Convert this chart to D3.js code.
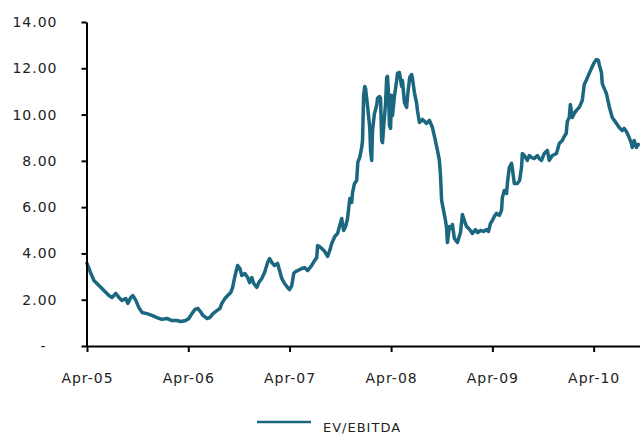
<!DOCTYPE html>
<html>
<head>
<meta charset="utf-8">
<script src="https://cdn.jsdelivr.net/npm/d3@7/dist/d3.min.js"></script>
<style>
  html, body { margin: 0; padding: 0; background: #fff; }
  svg { display: block; }
  .axis text { font-family: "DejaVu Sans", Verdana, sans-serif; font-size: 14px; letter-spacing: 1px; fill: #222; }
  .legend text { font-family: "DejaVu Sans", Verdana, sans-serif; font-size: 13px; letter-spacing: 1px; fill: #222; }
</style>
</head>
<body>
<svg id="chart" width="640" height="434"></svg>
<script>
// EV/EBITDA multiple, observation dates and values
const dates = [
  "2005-04-01","2005-04-08","2005-04-15","2005-04-26","2005-05-14","2005-06-01","2005-06-19","2005-06-30","2005-07-14","2005-07-25",
  "2005-08-05","2005-08-19","2005-08-26","2005-09-06","2005-09-13","2005-09-24","2005-10-05","2005-10-16","2005-11-03","2005-11-21",
  "2005-12-09","2005-12-27","2006-01-14","2006-02-01","2006-02-19","2006-03-05","2006-03-23","2006-04-03","2006-04-14","2006-04-25",
  "2006-05-06","2006-05-17","2006-05-24","2006-06-07","2006-06-18","2006-06-29","2006-07-13","2006-07-24","2006-07-31","2006-08-11",
  "2006-08-21","2006-09-01","2006-09-08","2006-09-15","2006-09-23","2006-09-26","2006-10-04","2006-10-11","2006-10-22","2006-11-01",
  "2006-11-08","2006-11-16","2006-11-23","2006-12-04","2006-12-11","2006-12-22","2007-01-01","2007-01-12","2007-01-19","2007-01-27",
  "2007-02-06","2007-02-17","2007-02-24","2007-03-04","2007-03-14","2007-03-25","2007-04-01","2007-04-09","2007-04-16","2007-04-23",
  "2007-04-30","2007-05-15","2007-05-25","2007-06-05","2007-06-20","2007-06-30","2007-07-08","2007-07-11","2007-07-18","2007-07-26",
  "2007-08-06","2007-08-16","2007-08-24","2007-08-31","2007-09-11","2007-09-21","2007-09-28","2007-10-06","2007-10-13","2007-10-20",
  "2007-10-27","2007-11-04","2007-11-11","2007-11-14","2007-11-21","2007-11-29","2007-12-03","2007-12-10","2007-12-17","2007-12-20",
  "2007-12-24","2007-12-28","2007-12-31","2008-01-08","2008-01-15","2008-01-18","2008-01-22","2008-01-25","2008-02-01","2008-02-09",
  "2008-02-12","2008-02-19","2008-02-23","2008-02-27","2008-03-01","2008-03-05","2008-03-12","2008-03-16","2008-03-19","2008-03-23",
  "2008-03-26","2008-03-30","2008-04-03","2008-04-06","2008-04-13","2008-04-21","2008-04-24","2008-05-01","2008-05-09","2008-05-12",
  "2008-05-19","2008-05-27","2008-05-30","2008-06-07","2008-06-14","2008-06-17","2008-06-24","2008-07-02","2008-07-05","2008-07-12",
  "2008-07-23","2008-08-07","2008-08-17","2008-08-28","2008-09-05","2008-09-15","2008-09-22","2008-09-26","2008-09-30","2008-10-07",
  "2008-10-14","2008-10-18","2008-10-21","2008-10-28","2008-11-05","2008-11-08","2008-11-15","2008-11-26","2008-12-07","2008-12-14",
  "2008-12-21","2008-12-29","2009-01-09","2009-01-19","2009-01-30","2009-02-07","2009-02-17","2009-02-28","2009-03-11","2009-03-18",
  "2009-03-25","2009-04-01","2009-04-08","2009-04-16","2009-04-26","2009-05-04","2009-05-07","2009-05-14","2009-05-22","2009-05-25",
  "2009-06-01","2009-06-09","2009-06-12","2009-06-19","2009-06-30","2009-07-08","2009-07-15","2009-07-18","2009-07-25","2009-08-05",
  "2009-08-12","2009-08-20","2009-08-30","2009-09-10","2009-09-17","2009-09-25","2009-10-05","2009-10-16","2009-10-23","2009-11-03",
  "2009-11-18","2009-11-28","2009-12-09","2009-12-16","2009-12-23","2009-12-27","2010-01-03","2010-01-07","2010-01-14","2010-01-21",
  "2010-01-29","2010-02-08","2010-02-19","2010-02-26","2010-03-05","2010-03-16","2010-03-27","2010-04-03","2010-04-11","2010-04-18",
  "2010-04-21","2010-04-29","2010-05-02","2010-05-09","2010-05-17","2010-05-27","2010-06-07","2010-06-22","2010-07-02","2010-07-13",
  "2010-07-20","2010-07-28","2010-08-07","2010-08-15","2010-08-18","2010-08-25","2010-09-02","2010-09-09"
];

const evEbitda = [
  3.57,3.35,3.13,2.83,2.61,2.40,2.18,2.10,2.27,2.10,
  1.97,2.05,1.84,2.10,2.18,1.97,1.66,1.45,1.40,1.32,
  1.23,1.15,1.19,1.10,1.10,1.06,1.10,1.19,1.40,1.58,
  1.62,1.45,1.32,1.19,1.23,1.40,1.53,1.62,1.84,2.05,
  2.18,2.31,2.53,2.96,3.35,3.48,3.35,3.05,3.13,2.96,
  2.74,2.96,2.70,2.53,2.74,2.92,3.18,3.61,3.78,3.61,
  3.48,3.57,3.26,2.92,2.70,2.53,2.44,2.61,3.13,3.22,
  3.26,3.35,3.39,3.26,3.48,3.69,3.82,4.34,4.30,4.21,
  4.08,3.87,4.13,4.43,4.73,4.86,5.16,5.51,4.99,5.16,
  5.51,6.37,6.20,6.63,7.02,7.15,7.93,8.15,8.58,8.88,
  10.83,11.21,11.13,10.26,9.44,8.45,8.02,9.31,10.05,10.39,
  10.70,10.78,10.70,8.88,8.79,9.44,10.48,11.60,11.65,10.83,
  9.53,9.40,10.83,9.96,10.78,11.47,11.78,11.82,11.21,11.47,
  10.52,10.31,10.78,11.60,11.73,11.56,10.95,10.48,10.18,9.66,
  9.79,9.62,9.75,9.44,9.01,8.45,8.02,7.37,6.29,5.86,
  5.42,5.08,4.47,5.16,5.08,5.25,4.65,4.47,4.90,5.68,
  5.42,5.16,5.03,4.86,5.03,4.90,4.99,4.95,5.03,4.95,
  5.29,5.42,5.60,5.73,5.64,5.86,6.42,6.72,6.59,7.02,
  7.71,7.89,7.67,7.02,7.02,7.15,7.71,8.32,8.23,8.02,
  8.23,8.15,8.10,8.23,8.10,8.02,8.32,8.45,8.02,8.23,
  8.32,8.75,8.88,9.05,9.18,9.70,9.87,10.44,9.87,10.05,
  10.18,10.31,10.61,11.30,11.47,11.78,12.08,12.25,12.38,12.34,
  12.17,11.82,11.34,11.13,10.91,10.35,9.87,9.62,9.44,9.31,
  9.40,9.27,9.01,8.75,8.58,8.88,8.58,8.71
];

const xTickDates = ["2005-04-01","2006-04-01","2007-04-01","2008-04-01","2009-04-01","2010-04-01"];
const yTickValues = [0, 2, 4, 6, 8, 10, 12, 14];
const xDomain = ["2005-04-01", "2010-09-15"];
const yDomain = [0, 14];
const seriesName = "EV/EBITDA";

const parse = d3.timeParse("%Y-%m-%d");
const data = dates.map((d, i) => ({ date: parse(d), value: evEbitda[i] }));

const svg = d3.select("#chart");
const lineColor = "#1b6780";

const plot = { left: 87, right: 640, top: 22, bottom: 346 };

const x = d3.scaleTime()
  .domain(xDomain.map(parse))
  .range([plot.left, plot.right]);

const y = d3.scaleLinear()
  .domain(yDomain)
  .range([plot.bottom, plot.top]);

// Series line
const line = d3.line()
  .x(d => x(d.date))
  .y(d => y(d.value));

svg.append("path")
  .datum(data)
  .attr("fill", "none")
  .attr("stroke", lineColor)
  .attr("stroke-width", 3.5)
  .attr("stroke-linejoin", "round")
  .attr("stroke-linecap", "round")
  .attr("d", line);

// Y axis
const yAxis = d3.axisLeft(y)
  .tickValues(yTickValues)
  .tickSizeInner(5)
  .tickSizeOuter(0)
  .tickPadding(24)
  .tickFormat(d => d === 0 ? "-" : d3.format(".2f")(d));

const gy = svg.append("g")
  .attr("class", "axis")
  .attr("transform", `translate(${plot.left - 0.5},0)`)
  .call(yAxis);

gy.selectAll("text").filter(d => d === 0).attr("dx", -11);

// X axis
const xAxis = d3.axisBottom(x)
  .tickValues(xTickDates.map(parse))
  .tickSizeInner(6)
  .tickSizeOuter(0)
  .tickPadding(21)
  .tickFormat(d3.timeFormat("%b-%y"));

const gx = svg.append("g")
  .attr("class", "axis")
  .attr("transform", `translate(0,${plot.bottom})`)
  .call(xAxis);

svg.selectAll(".axis path, .axis line")
  .attr("stroke", "#000")
  .attr("stroke-width", 2);

// Legend
const legend = svg.append("g").attr("class", "legend");
legend.append("line")
  .attr("x1", 257).attr("x2", 311)
  .attr("y1", 422).attr("y2", 422)
  .attr("stroke", lineColor)
  .attr("stroke-width", 2.5);
legend.append("text")
  .attr("x", 323)
  .attr("y", 432)
  .text(seriesName);
</script>
</body>
</html>
